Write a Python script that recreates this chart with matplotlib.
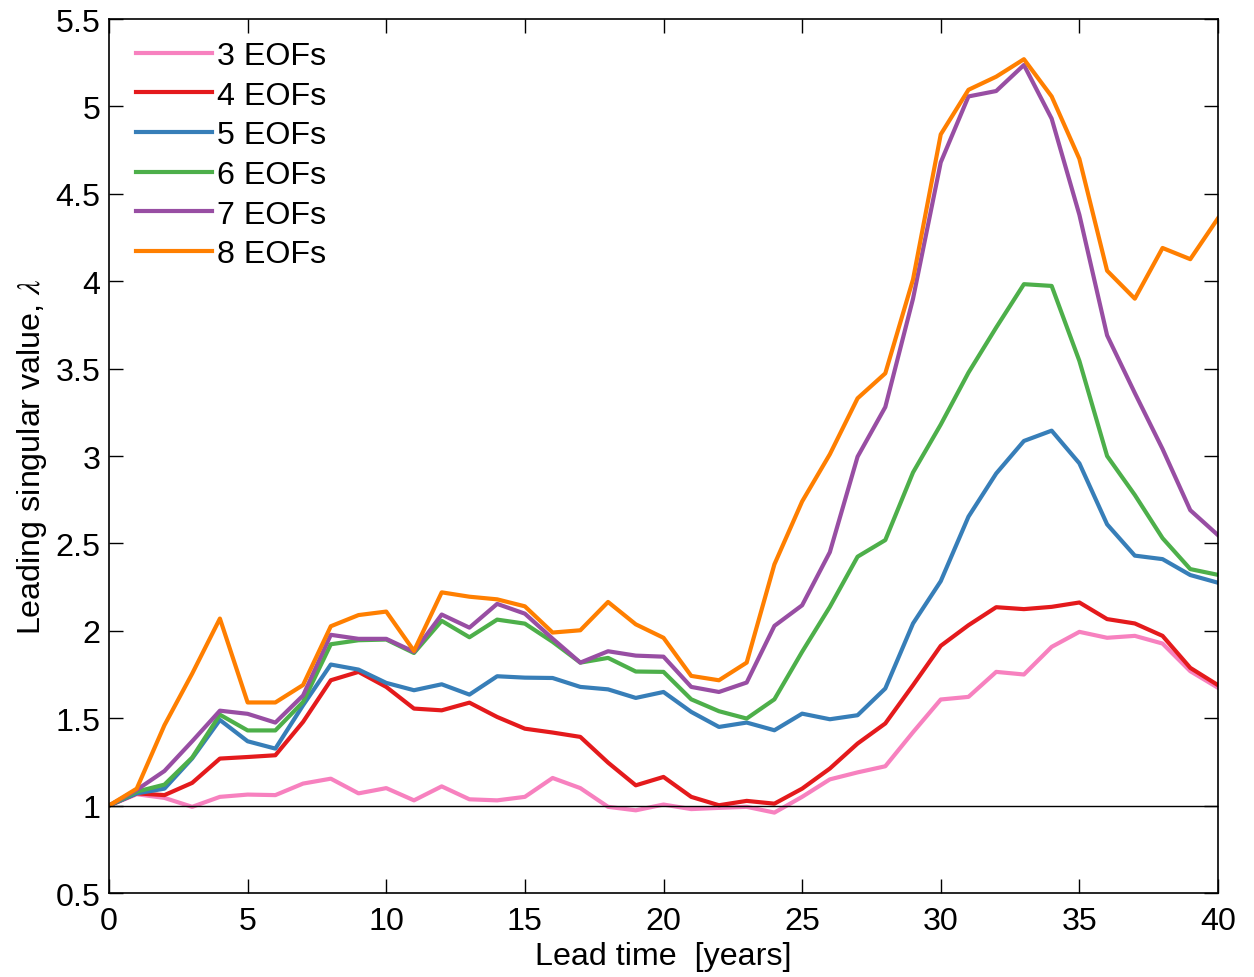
import matplotlib
matplotlib.use("Agg")
import matplotlib.pyplot as plt
import matplotlib.ticker as ticker

lead = list(range(41))

eof3 = [1.0, 1.065, 1.044, 0.993, 1.05, 1.063, 1.06, 1.126, 1.154, 1.07, 1.10,
        1.03, 1.11, 1.036, 1.03, 1.05, 1.158, 1.10, 0.993, 0.973, 1.006,
        0.98, 0.987, 0.993, 0.96, 1.05, 1.15, 1.19, 1.225, 1.42, 1.607,
        1.622, 1.765, 1.75, 1.908, 1.994, 1.96, 1.971, 1.927, 1.769, 1.674]
eof4 = [1.0, 1.07, 1.06, 1.13, 1.269, 1.278, 1.288, 1.479, 1.717, 1.765, 1.679,
        1.555, 1.545, 1.589, 1.507, 1.44, 1.418, 1.393, 1.246, 1.116, 1.164,
        1.05, 1.002, 1.027, 1.011, 1.097, 1.212, 1.355, 1.47, 1.689, 1.914,
        2.032, 2.135, 2.124, 2.137, 2.162, 2.067, 2.042, 1.971, 1.788, 1.689]
eof5 = [1.0, 1.07, 1.097, 1.27, 1.49, 1.368, 1.326, 1.574, 1.807, 1.778, 1.702,
        1.66, 1.694, 1.635, 1.74, 1.732, 1.73, 1.679, 1.665, 1.616, 1.65,
        1.536, 1.45, 1.475, 1.431, 1.526, 1.494, 1.517, 1.67, 2.042, 2.284,
        2.653, 2.90, 3.086, 3.145, 2.958, 2.609, 2.43, 2.41, 2.319, 2.275]
eof6 = [1.0, 1.08, 1.12, 1.275, 1.52, 1.43, 1.43, 1.593, 1.923, 1.946, 1.95,
        1.873, 2.057, 1.963, 2.064, 2.041, 1.937, 1.818, 1.845, 1.767, 1.765,
        1.608, 1.54, 1.498, 1.608, 1.88, 2.137, 2.424, 2.519, 2.906, 3.18,
        3.477, 3.735, 3.983, 3.973, 3.544, 3.0, 2.777, 2.53, 2.353, 2.32]
eof7 = [1.0, 1.09, 1.198, 1.368, 1.543, 1.525, 1.475, 1.63, 1.977, 1.954, 1.954,
        1.88, 2.093, 2.018, 2.154, 2.098, 1.955, 1.818, 1.883, 1.858, 1.852,
        1.679, 1.65, 1.704, 2.028, 2.146, 2.45, 2.996, 3.28, 3.90, 4.68,
        5.057, 5.088, 5.237, 4.93, 4.38, 3.69, 3.36, 3.04, 2.69, 2.547]
eof8 = [1.0, 1.097, 1.46, 1.755, 2.07, 1.59, 1.59, 1.69, 2.026, 2.09, 2.11,
        1.885, 2.22, 2.195, 2.18, 2.14, 1.99, 2.003, 2.165, 2.037, 1.96,
        1.742, 1.717, 1.818, 2.38, 2.74, 3.01, 3.33, 3.473, 4.01, 4.84,
        5.095, 5.17, 5.27, 5.057, 4.70, 4.06, 3.90, 4.19, 4.126, 4.36]

labels = ["3 EOFs", "4 EOFs", "5 EOFs", "6 EOFs", "7 EOFs", "8 EOFs"]
colors = ["#f781bf", "#e41a1c", "#377eb8", "#4daf4a", "#984ea3", "#ff7f00"]
series = [eof3, eof4, eof5, eof6, eof7, eof8]


def main():
    plt.rcParams['font.family'] = ['Liberation Sans', 'DejaVu Sans']
    plt.rcParams['mathtext.fontset'] = 'stix'
    fs = 23.2

    fig = plt.figure(figsize=(12.54, 9.78), dpi=100)
    ax = fig.add_axes([109 / 1254, 1 - 894 / 978, 1109 / 1254, 874 / 978])

    for y, lab, c in zip(series, labels, colors):
        ax.plot(lead, y, color=c, linewidth=3, label=lab)
    ax.axhline(1, color='black', linewidth=1, zorder=5)

    ax.set_xlim(0, 40)
    ax.set_ylim(0.5, 5.5)
    ax.xaxis.set_major_locator(ticker.MultipleLocator(5))
    ax.yaxis.set_major_locator(ticker.MultipleLocator(0.5))
    ax.yaxis.set_major_formatter(ticker.FormatStrFormatter('%g'))
    ax.tick_params(direction='in', length=10, width=1, top=True, right=True,
                   labelsize=fs)
    ax.tick_params(axis='x', pad=9)
    ax.tick_params(axis='y', pad=6)
    for s in ax.spines.values():
        s.set_linewidth(1.2)

    ax.set_xlabel("Lead time  [years]", fontsize=fs, labelpad=4)
    ax.set_ylabel(r"Leading singular value, $\lambda$", fontsize=fs, labelpad=5)

    ax.legend(loc='upper left', bbox_to_anchor=(0.016, 0.986), frameon=False,
              fontsize=fs, handlelength=2.35, labelspacing=0.3,
              handletextpad=0.15, borderaxespad=0, borderpad=0.3)

    fig.savefig("out.png", dpi=100)


if __name__ == '__main__':
    main()
